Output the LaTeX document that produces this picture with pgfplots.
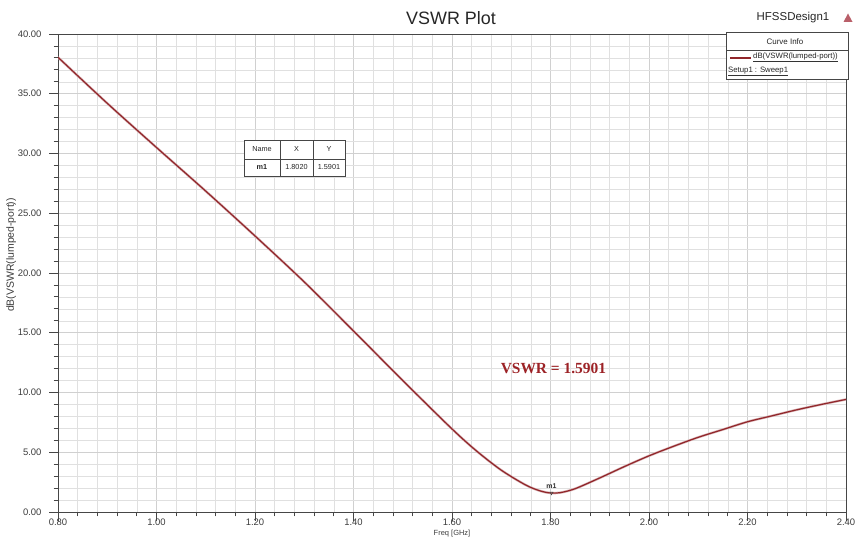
\documentclass[border=0pt]{standalone}
\usepackage{pgfplots}
\pgfplotsset{compat=1.18}
\usepackage{fontspec}
\setmainfont{Liberation Sans}
\newfontfamily\serifb{Liberation Serif}
\definecolor{curve}{RGB}{145,38,42}
\definecolor{gridc}{RGB}{224,224,224}
\definecolor{gridm}{RGB}{208,208,208}
\definecolor{axisc}{RGB}{70,70,70}
\definecolor{txt}{RGB}{60,60,60}
\pgfplotstableread{
x y
0.80 38.05
0.90 34.20
1.00 30.50
1.10 26.85
1.20 23.10
1.30 19.25
1.40 15.15
1.50 11.00
1.60 6.95
1.65 5.10
1.70 3.50
1.75 2.25
1.78 1.75
1.80 1.59
1.82 1.62
1.85 1.95
1.90 2.85
1.95 3.80
2.00 4.70
2.05 5.50
2.10 6.25
2.15 6.90
2.20 7.55
2.25 8.05
2.30 8.55
2.35 9.00
2.40 9.42
}\vswr
\begin{document}
\begin{tikzpicture}[x=1bp,y=1bp]
\useasboundingbox (0,0) rectangle (855,547);
\begin{axis}[
  at={(58bp,35bp)}, anchor=south west,
  width=788bp, height=478bp, scale only axis,
  xmin=0.8, xmax=2.4, ymin=0, ymax=40,
  xtick={0.8,1.0,...,2.41}, ytick={0,5,...,40},
  minor x tick num=4, minor y tick num=4,
  grid=both,
  major grid style={gridm, line width=0.6pt},
  minor grid style={gridc, line width=0.5pt},
  axis line style={axisc, line width=0.8pt},
  tick style={axisc, line width=0.8pt},
  tick align=outside,
  major tick length=9bp, minor tick length=4.5bp,
  xtick pos=bottom, ytick pos=left,
  /pgf/number format/assume math mode=true,
  ticklabel style={font=\fontsize{9.5}{10}\selectfont, text=txt},
  xticklabel style={yshift=6bp},
  yticklabel style={xshift=-4bp},
  xticklabel={\pgfmathprintnumber[fixed,precision=2,zerofill]{\tick}},
  yticklabel={\pgfmathprintnumber[fixed,precision=2,zerofill]{\tick}},
  xlabel={Freq [GHz]},
  ylabel={dB(VSWR(lumped-port))},
  xlabel style={font=\fontsize{7.5}{8}\selectfont, text=txt, yshift=2bp},
  ylabel style={font=\fontsize{10.5}{11}\selectfont, text=txt, yshift=-5bp, xshift=18bp},
]
\addplot[curve!35, line width=2.4pt, smooth] table {\vswr};
\addplot[curve, line width=1.2pt, smooth] table {\vswr};
\addplot[only marks, mark=triangle, mark options={rotate=180, scale=0.9, draw=axisc, line width=0.5pt}, nodes near coords={\textbf{m1}}, point meta=explicit symbolic, every node near coord/.style={font=\fontsize{7}{7}\selectfont, text=black!80, yshift=1bp}] table[meta=label] {
x y label
1.802 1.5901 m1
};
\node[font=\serifb\bfseries\fontsize{15.5}{16}\selectfont, text=curve!90!red] at (axis cs:1.806,12.05) {VSWR = 1.5901};
\end{axis}
% title and design name
\node[font=\fontsize{18}{19}\selectfont, text=black!85] at (451,529) {VSWR Plot};
\node[font=\fontsize{11.5}{12}\selectfont, text=black!85] at (793,529) {HFSSDesign1};
\fill[color={rgb,255:red,185;green,95;blue,105}] (843.5,525) -- (852.5,525) -- (848,533.5) -- cycle;
% curve info box
\fill[white] (726,468) rectangle (848,515);
\draw[axisc, line width=0.6pt] (726,468) rectangle (848,515);
\draw[axisc, line width=0.4pt] (726,497) -- (848,497);
\node[font=\fontsize{8}{8}\selectfont, text=black!85] at (785,505.5) {Curve Info};
\draw[curve, line width=1.6pt] (730,489) -- (751,489);
\node[font=\fontsize{7.8}{8}\selectfont, text=black!85, anchor=west, inner sep=0pt] (d1) at (753,490) {dB(VSWR(lumped-port))};
\draw[black!80, line width=0.35pt] ([yshift=-0.8bp]d1.south west) -- ([yshift=-0.8bp]d1.south east);
\node[font=\fontsize{7.8}{8}\selectfont, text=black!85, anchor=west, inner sep=0pt] (d2) at (728,476) {Setup1 : Sweep1};
\draw[black!80, line width=0.35pt] ([yshift=-0.8bp]d2.south west) -- ([yshift=-0.8bp]d2.south east);
% marker table
\fill[white] (244,371) rectangle (345,407);
\draw[axisc, line width=0.6pt] (244,371) rectangle (345,407);
\draw[axisc, line width=0.4pt] (244,388) -- (345,388);
\draw[axisc, line width=0.4pt] (280,371) -- (280,407);
\draw[axisc, line width=0.4pt] (313,371) -- (313,407);
\begin{scope}[every node/.style={font=\fontsize{7.3}{8}\selectfont, text=black!85}]
\node at (262,397.5) {Name};
\node at (296.5,397.5) {X};
\node at (329,397.5) {Y};
\node at (262,379.5) {\textbf{m1}};
\node at (296.5,379.5) {1.8020};
\node at (329,379.5) {1.5901};
\end{scope}
\end{tikzpicture}
\end{document}
